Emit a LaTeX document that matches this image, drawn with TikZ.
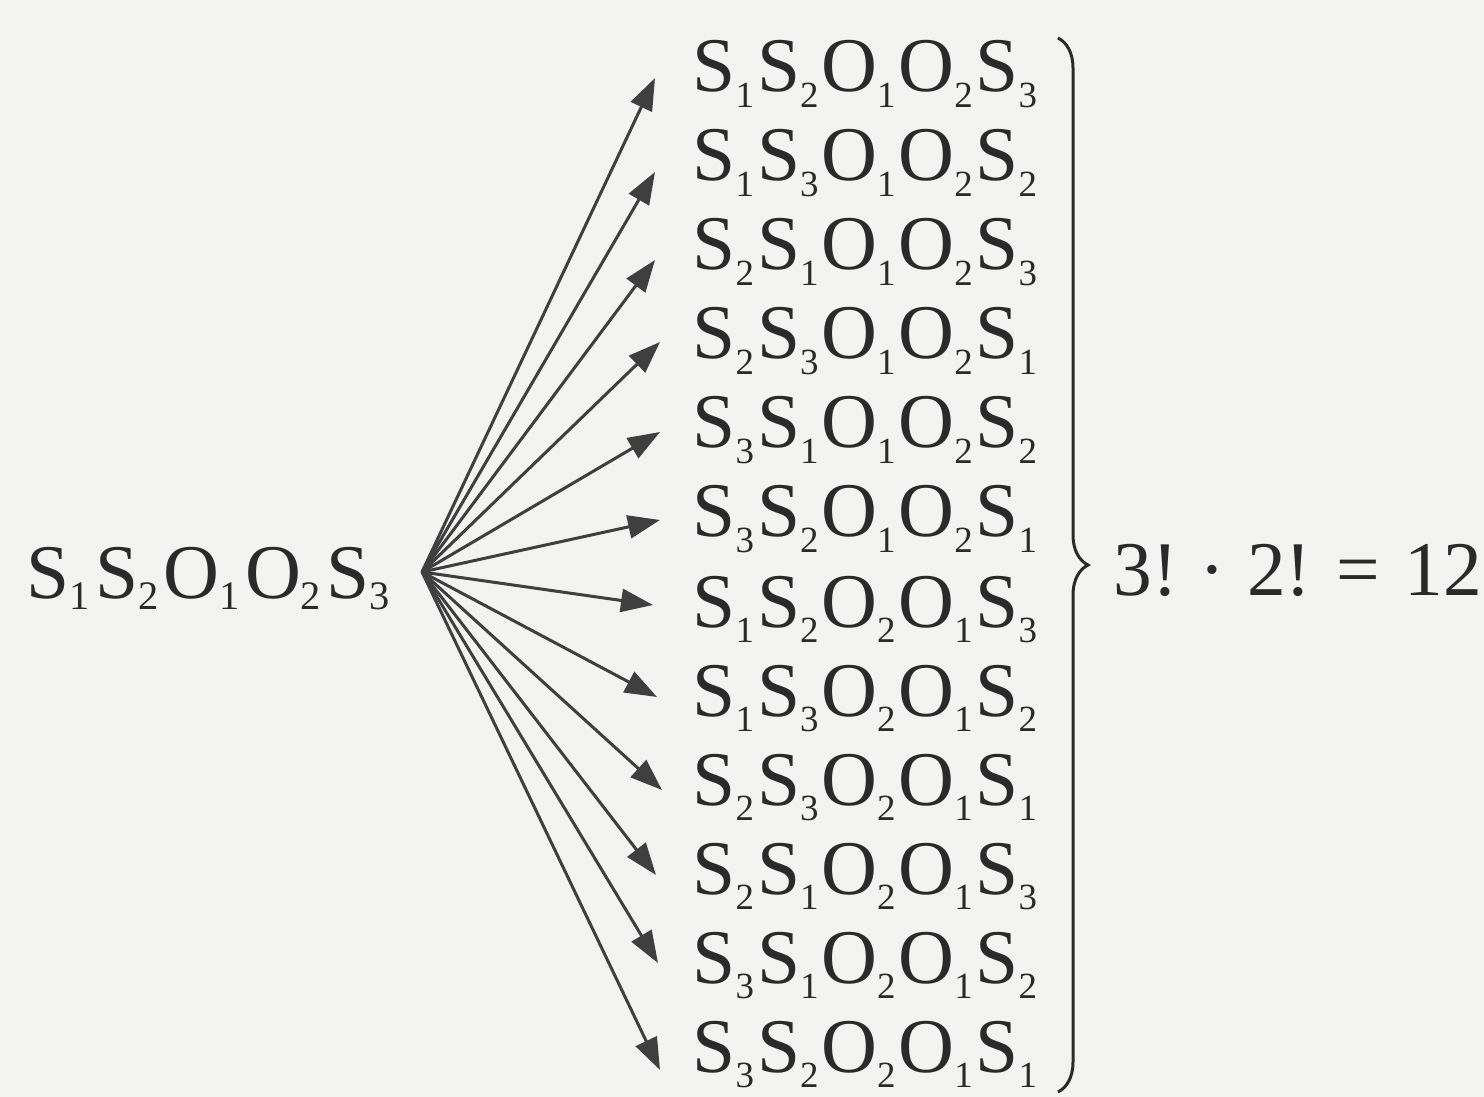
\documentclass[tikz,border=0pt]{standalone}
\usepackage{fontspec}
\setmainfont{Liberation Serif}
\usetikzlibrary{arrows.meta,decorations.pathreplacing}
\definecolor{bgc}{HTML}{F3F3F1}
\definecolor{ink}{HTML}{2A2A2A}
\newcommand\lo[1]{\raisebox{-4.3pt}{\fontsize{10.5}{10.5}\selectfont #1}\kern0.8pt}
\newcommand\llo[1]{\raisebox{-3.4pt}{\fontsize{11.5}{11.5}\selectfont #1}\kern1.5pt}
\begin{document}
\begin{tikzpicture}[x=0.01cm,y=-0.01cm,
  row/.style={anchor=base west,inner sep=0pt,text=ink,font=\fontsize{22}{26}\selectfont},
  arr/.style={draw=ink!90,line width=0.03cm,-{Triangle[length=0.32cm,width=0.23cm]}},
  brc/.style={draw=ink,line width=0.03cm,decorate,decoration={brace,amplitude=0.3cm}}]
\fill[bgc] (0,0) rectangle (1484,1097);
\useasboundingbox (0,0) rectangle (1484,1097);
\node[row] (src) at (26,598) {S\llo1S\llo2O\llo1O\llo2S\llo3};
\coordinate (fan) at (422,572);
\node[row] (r1) at (692,92) {S\lo1S\lo2O\lo1O\lo2S\lo3};
\node[row] (r2) at (692,181) {S\lo1S\lo3O\lo1O\lo2S\lo2};
\node[row] (r3) at (692,270) {S\lo2S\lo1O\lo1O\lo2S\lo3};
\node[row] (r4) at (692,359) {S\lo2S\lo3O\lo1O\lo2S\lo1};
\node[row] (r5) at (692,448) {S\lo3S\lo1O\lo1O\lo2S\lo2};
\node[row] (r6) at (692,537) {S\lo3S\lo2O\lo1O\lo2S\lo1};
\node[row] (r7) at (692,627) {S\lo1S\lo2O\lo2O\lo1S\lo3};
\node[row] (r8) at (692,716) {S\lo1S\lo3O\lo2O\lo1S\lo2};
\node[row] (r9) at (692,805) {S\lo2S\lo3O\lo2O\lo1S\lo1};
\node[row] (r10) at (692,894) {S\lo2S\lo1O\lo2O\lo1S\lo3};
\node[row] (r11) at (692,983) {S\lo3S\lo1O\lo2O\lo1S\lo2};
\node[row] (r12) at (692,1072) {S\lo3S\lo2O\lo2O\lo1S\lo1};
\coordinate (t1) at (655,78);
\coordinate (t2) at (655,172);
\coordinate (t3) at (655,260);
\coordinate (t4) at (660,342);
\coordinate (t5) at (660,432);
\coordinate (t6) at (660,520);
\coordinate (t7) at (653,605);
\coordinate (t8) at (657,697);
\coordinate (t9) at (662,790);
\coordinate (t10) at (656,875);
\coordinate (t11) at (658,963);
\coordinate (t12) at (660,1070);
\foreach \i in {1,...,12}{\draw[arr] (fan) -- (t\i);}
\coordinate (btop) at (1058,38);
\coordinate (bbot) at (1058,1092);
\draw[brc] (btop) -- (bbot);
\node[row] (res) at (1113,595) {3!\kern0.28em·\kern0.28em2!\kern0.32em=\kern0.32em12};
\end{tikzpicture}
\end{document}
